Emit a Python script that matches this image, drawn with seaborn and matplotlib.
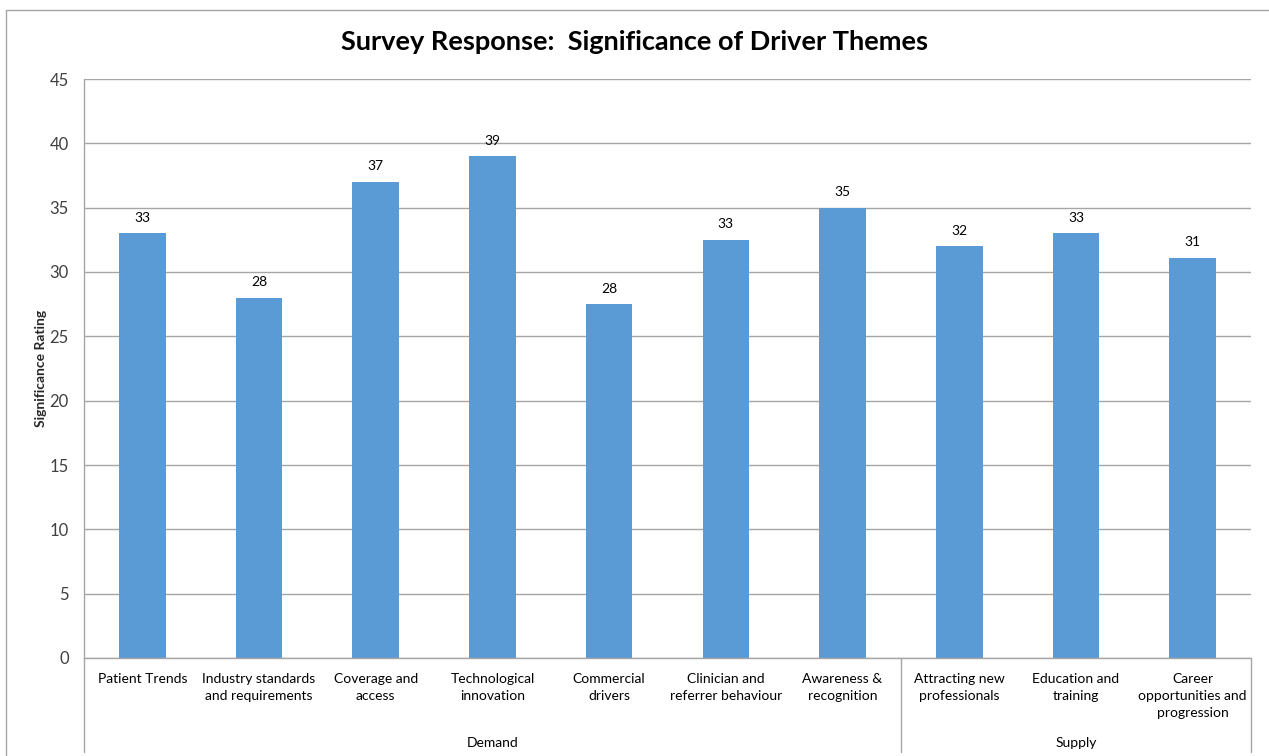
import math
import pandas as pd
import matplotlib
matplotlib.use("Agg")
import matplotlib.pyplot as plt
import matplotlib.transforms as mtransforms
from matplotlib.patches import Rectangle
import seaborn as sns

# Chart data
categories = [
    "Patient Trends",
    "Industry standards\nand requirements",
    "Coverage and\naccess",
    "Technological\ninnovation",
    "Commercial\ndrivers",
    "Clinician and\nreferrer behaviour",
    "Awareness &\nrecognition",
    "Attracting new\nprofessionals",
    "Education and\ntraining",
    "Career\nopportunities and\nprogression",
]
ratings = [33, 28, 37, 39, 27.5, 32.5, 35, 32, 33, 31.1]
groups = ["Demand"] * 7 + ["Supply"] * 3
y_ticks = [0, 5, 10, 15, 20, 25, 30, 35, 40, 45]

df = pd.DataFrame({"Theme": categories, "Rating": ratings, "Group": groups})

sns.set_theme(style="whitegrid")
plt.rcParams["font.family"] = ["Lato", "DejaVu Sans"]

bar_color = "#5B9BD5"
grid_color = "#A6A6A6"
text_color = "#404040"

fig = plt.figure(figsize=(12.69, 7.56), dpi=100)
ax = fig.add_axes([84 / 1269, 1 - 658 / 756, (1251 - 84) / 1269, (658 - 79) / 756])

sns.barplot(data=df, x="Theme", y="Rating", color=bar_color, width=0.4,
            saturation=1, ax=ax, edgecolor="none")

# Value labels (round half up, like the source)
for i, v in enumerate(ratings):
    ax.text(i, v + 0.75, str(math.floor(v + 0.5)), ha="center", va="bottom",
            fontsize=10, color="black")

ax.set_ylim(0, 45)
ax.set_yticks(y_ticks)
ax.set_xlim(-0.5, len(categories) - 0.5)
ax.grid(axis="y", color=grid_color, linewidth=1)
ax.grid(axis="x", visible=False)
for side in ["top", "right"]:
    ax.spines[side].set_visible(False)
ax.spines["left"].set_color(grid_color)
ax.spines["bottom"].set_color(grid_color)
ax.spines["left"].set_linewidth(1)
ax.spines["bottom"].set_linewidth(1)

ax.tick_params(axis="y", length=0, pad=11, labelsize=12, labelcolor=text_color)
ax.tick_params(axis="x", length=0, pad=11, labelsize=10, labelcolor="black")
ax.set_xticks(range(len(categories)))
ax.set_xticklabels(categories, linespacing=1.5)

ax.set_xlabel("")
ax.set_ylabel("Significance Rating", fontsize=10, fontweight="bold", labelpad=2)

# Group separators and group labels below the axis
trans = mtransforms.blended_transform_factory(ax.transData, ax.transAxes)
depth = (752 - 658) / (658 - 79)
bounds = [-0.5]
names = []
for i, g in enumerate(groups):
    if i == 0 or g != groups[i - 1]:
        names.append((g, i))
for k, (g, start) in enumerate(names):
    end = names[k + 1][1] - 1 if k + 1 < len(names) else len(groups) - 1
    bounds.append(end + 0.5)
    ax.text((start + end) / 2, -(743 - 658) / (658 - 79), g, transform=trans,
            ha="center", va="center", fontsize=10, color="black")
for b in bounds:
    ax.plot([b, b], [0, -depth], transform=trans, color=grid_color,
            linewidth=1, clip_on=False)

fig.text(0.5, 1 - 42 / 756, "Survey Response:  Significance of Driver Themes",
         ha="center", va="center", fontsize=19.5, fontweight="bold", color="black")

# Outer chart frame
fig.patches.append(Rectangle((6 / 1269, -0.01), 1.02, 1 - 10 / 756 + 0.01,
                             transform=fig.transFigure, fill=False,
                             edgecolor="#A6A6A6", linewidth=1))

fig.savefig("out.png", dpi=100)
